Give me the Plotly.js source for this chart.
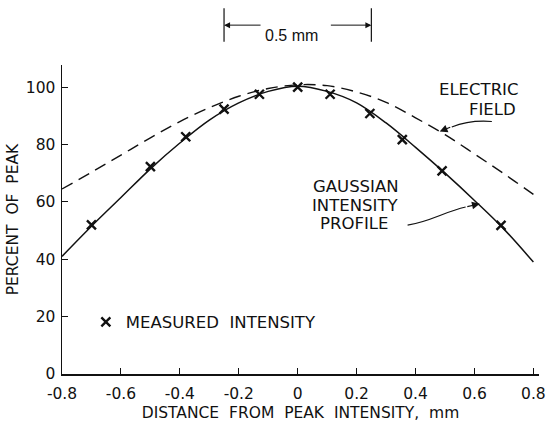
<!DOCTYPE html>
<html>
<head>
<meta charset="utf-8">
<script src="https://cdn.plot.ly/plotly-3.0.1.min.js"></script>
<style>html,body{margin:0;padding:0;background:#fff;}#chart{width:547px;height:423px;}</style>
</head>
<body>
<div id="chart"></div>
<script>
// Measured intensity points
const measX = [-0.70, -0.50, -0.38, -0.25, -0.13, 0.00, 0.11, 0.245, 0.355, 0.49, 0.69];
const measY = [52.0, 72.3, 82.7, 92.3, 97.5, 100.0, 97.5, 90.8, 81.7, 70.8, 51.8];

// Gaussian intensity profile (solid curve)
const gaussX = [-0.8, -0.7, -0.6, -0.5, -0.4, -0.3, -0.2, -0.1, 0.0, 0.1, 0.2, 0.3, 0.4, 0.5, 0.6, 0.7, 0.8];
const gaussY = [41.0, 51.5, 61.5, 71.5, 80.5, 88.5, 94.5, 98.5, 100.3, 98.5, 94.5, 87.5, 79.0, 70.0, 60.5, 50.5, 39.0];

// Electric field (dashed curve)
const fieldX = [-0.8, -0.7, -0.6, -0.5, -0.4, -0.3, -0.2, -0.1, 0.0, 0.1, 0.2, 0.3, 0.4, 0.5, 0.6, 0.7, 0.8, 0.815];
const fieldY = [64.5, 70.3, 76.3, 82.3, 88.0, 92.8, 96.8, 99.5, 100.8, 100.5, 98.3, 94.7, 89.3, 83.4, 76.7, 69.8, 62.6, 61.5];

// Axis ticks
const xTickVals = [-0.8, -0.6, -0.4, -0.2, 0, 0.2, 0.4, 0.6, 0.8];
const xTickText = ['-0.8', '-0.6', '-0.4', '-0.2', '0', '0.2', '0.4', '0.6', '0.8'];
const yTickVals = [0, 20, 40, 60, 80, 100];
const yTickText = ['0', '20', '40', '60', '80', '100'];

const FONT = 'DejaVu Sans, sans-serif';
const NB = '\u00a0';

const traces = [
  {x: fieldX, y: fieldY, type: 'scatter', mode: 'lines', line: {shape: 'spline', color: '#111', width: 1.4, dash: '12px,7px'}, showlegend: false, hoverinfo: 'skip'},
  {x: gaussX, y: gaussY, type: 'scatter', mode: 'lines', line: {shape: 'spline', color: '#111', width: 1.5}, showlegend: false, hoverinfo: 'skip'},
  {x: measX, y: measY, type: 'scatter', mode: 'markers', name: 'MEASURED' + NB + NB + 'INTENSITY',
   marker: {symbol: 'x-thin', size: 9, color: '#111', line: {color: '#111', width: 2.4}}, showlegend: true}
];

const axisCommon = {
  showgrid: false, zeroline: false, showline: true, linecolor: '#111', linewidth: 1.5,
  ticks: 'inside', tickcolor: '#111', tickwidth: 1, ticklen: 6,
  tickfont: {family: FONT, size: 15.5, color: '#111'}
};

const layout = {
  width: 547, height: 423,
  margin: {l: 62, r: 8, t: 65, b: 49},
  paper_bgcolor: '#fff', plot_bgcolor: '#fff',
  showlegend: true,
  legend: {x: 0.05, y: 0.168, xanchor: 'left', yanchor: 'middle', bgcolor: 'rgba(0,0,0,0)',
           font: {family: FONT, size: 16.5, color: '#111'}},
  xaxis: Object.assign({}, axisCommon, {
    range: [-0.8, 0.819], tickvals: xTickVals, ticktext: xTickText, ticklabelstandoff: 5,
    title: {text: 'DISTANCE' + NB + NB + 'FROM' + NB + NB + 'PEAK' + NB + NB + 'INTENSITY,' + NB + ' mm', font: {family: FONT, size: 15.5, color: '#111'}, standoff: 5}
  }),
  yaxis: Object.assign({}, axisCommon, {
    range: [0, 107.7], tickvals: yTickVals, ticktext: yTickText, ticklabelstandoff: 2,
    title: {text: 'PERCENT' + NB + NB + 'OF' + NB + NB + 'PEAK', font: {family: FONT, size: 15.5, color: '#111'}, standoff: 3}
  }),
  shapes: [
    {type: 'line', xref: 'x', yref: 'paper', x0: -0.25, x1: -0.25, y0: 1.075, y1: 1.184, line: {color: '#111', width: 1.2}},
    {type: 'line', xref: 'x', yref: 'paper', x0: 0.25, x1: 0.25, y0: 1.075, y1: 1.184, line: {color: '#111', width: 1.2}},
    {type: 'path', xref: 'x', yref: 'y', path: 'M 0.659,88.0 Q 0.584,88.6 0.523,86.1', line: {color: '#111', width: 1.2}},
    {type: 'path', xref: 'x', yref: 'y', path: 'M 0.373,51.9 C 0.448,53.0 0.499,56.6 0.570,58.2', line: {color: '#111', width: 1.2}}
  ],
  annotations: [
    {xref: 'x', yref: 'paper', x: -0.021, y: 1.129, text: '0.5 mm', showarrow: false,
     font: {family: 'Liberation Sans, Arial, sans-serif', size: 16, color: '#111'}},
    {xref: 'x', yref: 'paper', x: -0.25, y: 1.129, text: '', showarrow: true, ax: 38, ay: 0,
     arrowhead: 2, arrowsize: 1.2, arrowwidth: 1, arrowcolor: '#111'},
    {xref: 'x', yref: 'paper', x: 0.25, y: 1.129, text: '', showarrow: true, ax: -42, ay: 0,
     arrowhead: 2, arrowsize: 1.2, arrowwidth: 1, arrowcolor: '#111'},
    {xref: 'x', yref: 'y', x: 0.757, y: 99.3, xanchor: 'right', text: 'ELECTRIC', showarrow: false,
     font: {family: FONT, size: 16.5, color: '#111'}},
    {xref: 'x', yref: 'y', x: 0.749, y: 92.3, xanchor: 'right', text: 'FIELD', showarrow: false,
     font: {family: FONT, size: 16.5, color: '#111'}},
    {xref: 'x', yref: 'y', x: 0.199, y: 65.4, text: 'GAUSSIAN', showarrow: false,
     font: {family: FONT, size: 16.5, color: '#111'}},
    {xref: 'x', yref: 'y', x: 0.196, y: 58.9, text: 'INTENSITY', showarrow: false,
     font: {family: FONT, size: 16.5, color: '#111'}},
    {xref: 'x', yref: 'y', x: 0.192, y: 52.6, text: 'PROFILE', showarrow: false,
     font: {family: FONT, size: 16.5, color: '#111'}},
    {xref: 'x', yref: 'y', x: 0.482, y: 84.5, text: '', showarrow: true, ax: 12, ay: -5,
     arrowhead: 2, arrowsize: 1.3, arrowwidth: 1.2, arrowcolor: '#111'},
    {xref: 'x', yref: 'y', x: 0.618, y: 59.3, text: '', showarrow: true, ax: -14, ay: 3,
     arrowhead: 2, arrowsize: 1.3, arrowwidth: 1.2, arrowcolor: '#111'}
  ]
};

Plotly.newPlot('chart', traces, layout, {displayModeBar: false, staticPlot: true});
</script>
</body>
</html>
